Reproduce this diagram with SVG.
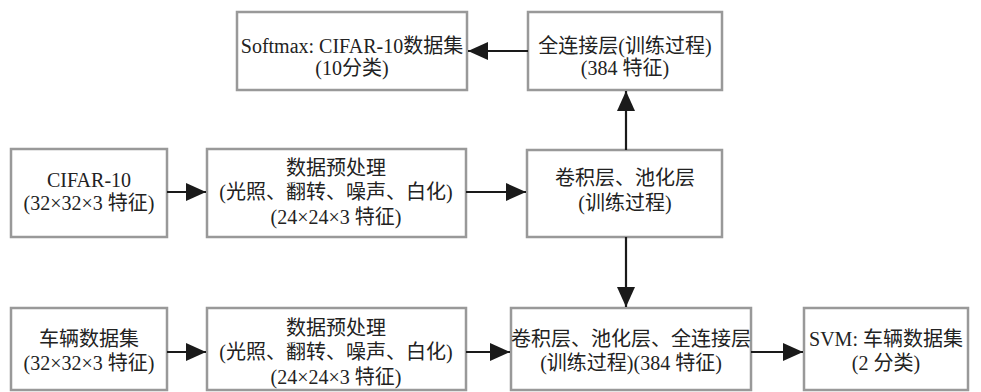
<svg xmlns="http://www.w3.org/2000/svg" width="981" height="392" viewBox="0 0 981 392">
<defs>
<marker id="ah" markerWidth="20" markerHeight="18" refX="20" refY="9" orient="auto" markerUnits="userSpaceOnUse">
<path d="M0,0 L20,9 L0,18 Z" fill="#1a1a1a"/>
</marker>
<style>
.box{fill:#fff;stroke:#999;stroke-width:2.5}
.t{font-family:"Liberation Serif","Noto Sans CJK SC",serif;font-size:20px;fill:#222;text-anchor:middle}
.c{stroke:#1a1a1a;stroke-width:2.2;fill:none;marker-end:url(#ah)}
</style>
</defs>
<rect width="981" height="392" fill="#fff"/>
<g id="softmax"><rect class="box" x="237" y="12" width="230" height="78"/>
<text class="t" x="352" y="53">Softmax: CIFAR-10数据集</text><text class="t" x="352" y="75">(10分类)</text></g>
<g id="fc"><rect class="box" x="528" y="12" width="194" height="78"/>
<text class="t" x="625" y="53">全连接层(训练过程)</text><text class="t" x="625" y="75">(384 特征)</text></g>
<g id="cifar"><rect class="box" x="11" y="149" width="156" height="88"/>
<text class="t" x="89" y="187">CIFAR-10</text><text class="t" x="89" y="210">(32×32×3 特征)</text></g>
<g id="pre1"><rect class="box" x="207" y="149" width="259" height="88"/>
<text class="t" x="336" y="175">数据预处理</text><text class="t" x="336" y="199">(光照、翻转、噪声、白化)</text><text class="t" x="336" y="224">(24×24×3 特征)</text></g>
<g id="conv1"><rect class="box" x="527" y="150" width="195" height="87"/>
<text class="t" x="625" y="185">卷积层、池化层</text><text class="t" x="625" y="210">(训练过程)</text></g>
<g id="car"><rect class="box" x="11" y="308" width="156" height="82"/>
<text class="t" x="89" y="346">车辆数据集</text><text class="t" x="89" y="370">(32×32×3 特征)</text></g>
<g id="pre2"><rect class="box" x="207" y="308" width="259" height="82"/>
<text class="t" x="336" y="335">数据预处理</text><text class="t" x="336" y="359">(光照、翻转、噪声、白化)</text><text class="t" x="336" y="384">(24×24×3 特征)</text></g>
<g id="conv2"><rect class="box" x="511" y="308" width="240" height="82"/>
<text class="t" x="631" y="346">卷积层、池化层、全连接层</text><text class="t" x="631" y="370">(训练过程)(384 特征)</text></g>
<g id="svm"><rect class="box" x="804" y="308" width="164" height="82"/>
<text class="t" x="886" y="346">SVM: 车辆数据集</text><text class="t" x="886" y="370">(2 分类)</text></g>
<g id="connectors">
<line class="c" x1="528" y1="51" x2="468" y2="51"/>
<line class="c" x1="626" y1="150" x2="626" y2="91"/>
<line class="c" x1="167" y1="192" x2="206" y2="192"/>
<line class="c" x1="466" y1="192" x2="526" y2="192"/>
<line class="c" x1="626" y1="237" x2="626" y2="307"/>
<line class="c" x1="167" y1="352" x2="206" y2="352"/>
<line class="c" x1="466" y1="352" x2="510" y2="352"/>
<line class="c" x1="751" y1="352" x2="803" y2="352"/>
</g>
</svg>
